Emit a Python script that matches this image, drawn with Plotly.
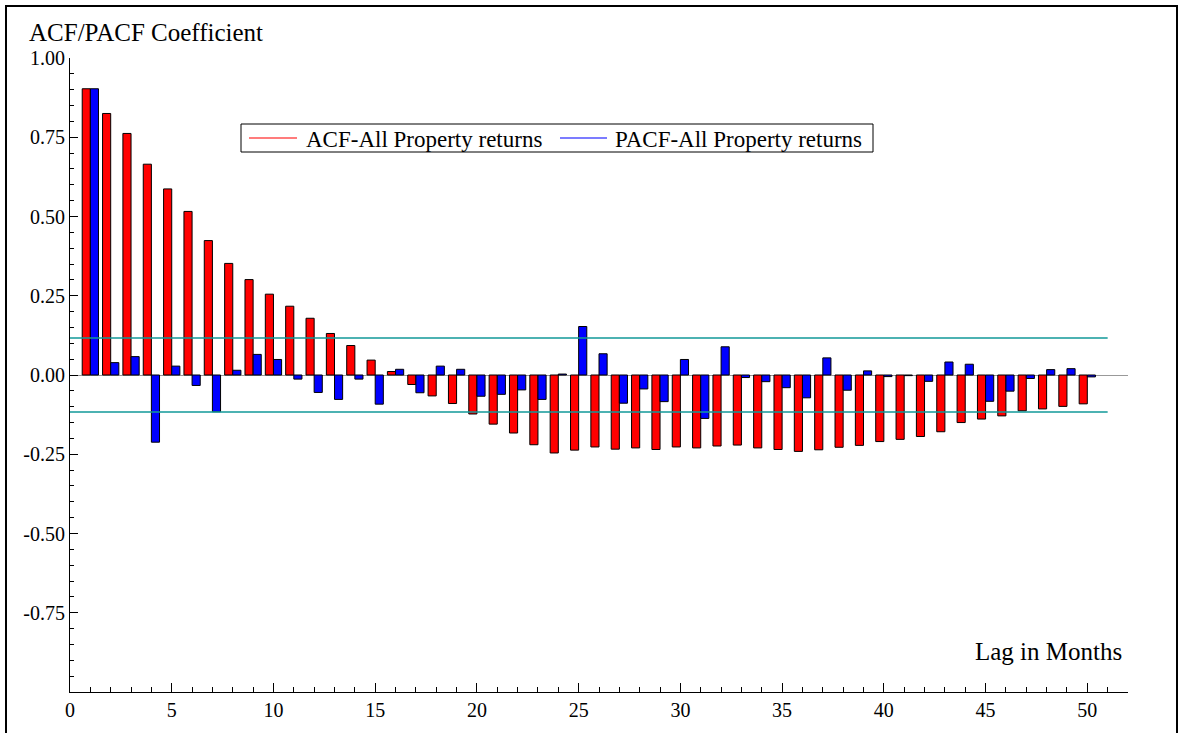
import plotly.graph_objects as go

lags = list(range(1, 51))
acf = [0.903, 0.825, 0.762, 0.665, 0.587, 0.516, 0.424, 0.352, 0.301, 0.255,
       0.217, 0.179, 0.131, 0.093, 0.047, 0.011, -0.030, -0.066, -0.090, -0.123,
       -0.155, -0.183, -0.220, -0.246, -0.237, -0.227, -0.234, -0.230, -0.235, -0.227,
       -0.230, -0.224, -0.221, -0.230, -0.235, -0.241, -0.236, -0.228, -0.222, -0.210,
       -0.203, -0.194, -0.179, -0.150, -0.139, -0.129, -0.113, -0.107, -0.099, -0.091]
pacf = [0.903, 0.039, 0.058, -0.212, 0.028, -0.033, -0.116, 0.015, 0.065, 0.049,
        -0.013, -0.055, -0.077, -0.013, -0.092, 0.018, -0.056, 0.028, 0.018, -0.067,
        -0.061, -0.047, -0.077, 0.003, 0.153, 0.067, -0.089, -0.044, -0.084, 0.049,
        -0.137, 0.089, -0.008, -0.021, -0.040, -0.072, 0.054, -0.048, 0.013, -0.005,
        -0.002, -0.020, 0.041, 0.034, -0.083, -0.051, -0.011, 0.017, 0.020, -0.006]
conf_bound = 0.117
band_x = [0, 51]
series_names = ["ACF-All Property returns", "PACF-All Property returns"]

y_tickvals = [1.0, 0.75, 0.5, 0.25, 0.0, -0.25, -0.5, -0.75]
y_ticktext = ["1.00", "0.75", "0.50", "0.25", "0.00", "-0.25", "-0.50", "-0.75"]
x_tickvals = list(range(0, 51, 5))

FONT = "Liberation Serif"
W, H = 1182, 733
ML, MR, MT, MB = 70, 54, 58, 41
PW, PH = W - ML - MR, H - MT - MB


def px(xp):
    return (xp - ML) / PW


def py(yp):
    return (H - MB - yp) / PH


fig = go.Figure()
fig.add_trace(go.Bar(x=lags, y=acf, marker=dict(color="#ff0000", line=dict(color="black", width=1)),
                     showlegend=False, name=series_names[0]))
fig.add_trace(go.Bar(x=lags, y=pacf, marker=dict(color="#0000ff", line=dict(color="black", width=1)),
                     showlegend=False, name=series_names[1]))
for b in (conf_bound, -conf_bound):
    fig.add_trace(go.Scatter(x=band_x, y=[b, b], mode="lines", line=dict(color="#119999", width=1.5),
                             showlegend=False, hoverinfo="skip"))

# legend drawn manually (box, line samples, labels)
shapes = [
    dict(type="rect", xref="paper", yref="paper", x0=px(241), x1=px(873), y0=py(152), y1=py(124),
         line=dict(color="black", width=1), fillcolor="white", layer="above"),
    dict(type="line", xref="paper", yref="paper", x0=px(249), x1=px(297), y0=py(138), y1=py(138),
         line=dict(color="#ff5050", width=1.5), layer="above"),
    dict(type="line", xref="paper", yref="paper", x0=px(560), x1=px(607), y0=py(138), y1=py(138),
         line=dict(color="#5050ff", width=1.5), layer="above"),
    dict(type="rect", xref="paper", yref="paper", x0=px(6), x1=px(1177), y0=py(745), y1=py(6),
         line=dict(color="black", width=2), fillcolor="rgba(0,0,0,0)", layer="above"),
]
annotations = [
    dict(text=series_names[0], xref="paper", yref="paper", x=px(304), y=py(139),
         xanchor="left", yanchor="middle", showarrow=False, font=dict(family=FONT, size=23)),
    dict(text=series_names[1], xref="paper", yref="paper", x=px(613), y=py(139),
         xanchor="left", yanchor="middle", showarrow=False, font=dict(family=FONT, size=23)),
    dict(text="ACF/PACF Coefficient", xref="paper", yref="paper", x=px(27), y=py(32),
         xanchor="left", yanchor="middle", showarrow=False, font=dict(family=FONT, size=25)),
    dict(text="Lag in Months", xref="paper", yref="paper", x=px(1124), y=py(651),
         xanchor="right", yanchor="middle", showarrow=False, font=dict(family=FONT, size=25)),
]

fig.update_layout(
    width=W, height=H,
    margin=dict(l=ML, r=MR, t=MT, b=MB),
    paper_bgcolor="white", plot_bgcolor="white",
    barmode="group", bargap=0.2, bargroupgap=0,
    font=dict(family=FONT, size=20, color="black"),
    showlegend=False,
    xaxis=dict(range=[0, 52], showgrid=False, zeroline=False, showline=True, linecolor="black", linewidth=1,
               tickmode="array", tickvals=x_tickvals, ticks="inside", ticklen=9, tickcolor="black",
               minor=dict(dtick=1, tick0=0, ticks="inside", ticklen=5, tickcolor="black"),
               tickfont=dict(family=FONT, size=20)),
    yaxis=dict(range=[-1.0, 1.0], showgrid=False, zeroline=True, zerolinecolor="#999999", zerolinewidth=1,
               showline=True, linecolor="black", linewidth=1,
               tickmode="array", tickvals=y_tickvals, ticktext=y_ticktext,
               ticks="inside", ticklen=8, tickcolor="black",
               minor=dict(dtick=0.05, tick0=0, ticks="inside", ticklen=4, tickcolor="black"),
               tickfont=dict(family=FONT, size=20)),
    annotations=annotations,
    shapes=shapes,
)

fig.write_html("out.html", config={"displayModeBar": False},
               post_script="document.body.style.margin='0px';")
